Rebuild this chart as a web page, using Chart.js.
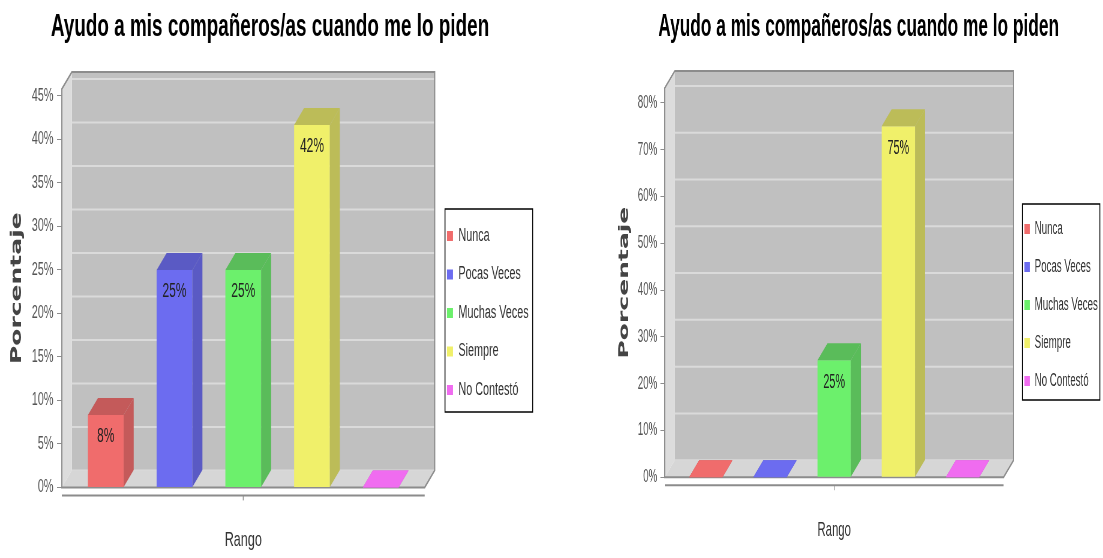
<!DOCTYPE html>
<html>
<head>
<meta charset="utf-8">
<script src="https://cdn.jsdelivr.net/npm/chart.js@4"></script>
<style>
html,body{margin:0;padding:0;background:#fff;overflow:hidden;width:1103px;height:558px}
.wrap{position:absolute;top:0;height:558px;transform-origin:0 0}
#w1{left:0;width:933px;transform:scaleX(0.6)}
#w2{left:560px;width:1006px;transform:scaleX(0.54)}
</style>
</head>
<body>
<div class="wrap" id="w1"><canvas id="c1"></canvas></div>
<div class="wrap" id="w2"><canvas id="c2"></canvas></div>
<script>
const TITLE = 'Ayudo a mis compañeros/as cuando me lo piden';
const SERIES = ['Nunca', 'Pocas Veces', 'Muchas Veces', 'Siempre', 'No Contestó'];
const CATEGORY = [''];
const LEFT_VALUES = [8.33, 25, 25, 41.67, 0];
const RIGHT_VALUES = [0, 0, 25, 75, 0];

const FRONT = ['#f06c6c', '#6c6cf0', '#6cf06c', '#f0f06a', '#f06cf0'];
const SHADE = ['#c45a5a', '#5a5ac4', '#5abc5a', '#bcbc58', '#c45ac4'];
const DX = 10, DY = 17;   // 3D depth, screen px

Chart.defaults.font.family = "'Liberation Sans', Arial, sans-serif";

function makeChart(id, values, o) {
  const dx = DX / o.sx;

  const box3d = {
    id: 'box3d',
    beforeDatasetsDraw(chart) {
      const {ctx, chartArea: a, scales: {y}} = chart;
      const y0 = y.getPixelForValue(0), top = a.top, L = a.left, R = a.right;
      ctx.save();
      ctx.fillStyle = '#c0c0c0';
      ctx.fillRect(L + dx, top - DY, R - L, y0 - top);
      ctx.strokeStyle = '#dadada'; ctx.lineWidth = 2;
      y.ticks.forEach(t => {
        const p = y.getPixelForValue(t.value) - DY;
        ctx.beginPath(); ctx.moveTo(L + dx, p); ctx.lineTo(R + dx, p); ctx.stroke();
      });
      ctx.fillStyle = '#dcdcdc';
      ctx.beginPath(); ctx.moveTo(L, y0); ctx.lineTo(L, top); ctx.lineTo(L + dx, top - DY); ctx.lineTo(L + dx, y0 - DY); ctx.closePath(); ctx.fill();
      ctx.fillStyle = '#d6d6d6';
      ctx.beginPath(); ctx.moveTo(L, y0); ctx.lineTo(L + dx, y0 - DY); ctx.lineTo(R + dx, y0 - DY); ctx.lineTo(R, y0); ctx.closePath(); ctx.fill();
      // outline
      ctx.strokeStyle = '#8c8c8c'; ctx.lineWidth = 2;
      ctx.beginPath();
      ctx.moveTo(L, y0); ctx.lineTo(L, top); ctx.lineTo(L + dx, top - DY); ctx.lineTo(R + dx, top - DY);
      ctx.lineTo(R + dx, y0 - DY); ctx.lineTo(R, y0); ctx.closePath(); ctx.stroke();
      // category axis line below the floor
      ctx.strokeStyle = '#8c8c8c'; ctx.lineWidth = 2;
      ctx.beginPath(); ctx.moveTo(L, y0 + 8); ctx.lineTo(R, y0 + 8); ctx.stroke();
      ctx.lineWidth = 1.5;
      const cx = chart.scales.x.getPixelForValue(0);
      ctx.beginPath(); ctx.moveTo(cx, y0 + 8); ctx.lineTo(cx, y0 + 13); ctx.stroke();
      ctx.restore();
    },
    afterDatasetsDraw(chart) {
      const {ctx} = chart;
      ctx.save();
      chart.data.datasets.forEach((ds, i) => {
        const bar = chart.getDatasetMeta(i).data[0];
        const xl = bar.x - bar.width / 2, xr = bar.x + bar.width / 2, yt = bar.y, yb = bar.base;
        ctx.fillStyle = SHADE[i];
        ctx.beginPath(); ctx.moveTo(xl, yt); ctx.lineTo(xl + dx, yt - DY); ctx.lineTo(xr + dx, yt - DY); ctx.lineTo(xr, yt); ctx.closePath(); ctx.fill();
        ctx.beginPath(); ctx.moveTo(xr, yt); ctx.lineTo(xr + dx, yt - DY); ctx.lineTo(xr + dx, yb - DY); ctx.lineTo(xr, yb); ctx.closePath(); ctx.fill();
        if (ds.data[0] === 0) {
          ctx.fillStyle = FRONT[i];
          ctx.beginPath(); ctx.moveTo(xl, yt); ctx.lineTo(xl + dx, yt - DY); ctx.lineTo(xr + dx, yt - DY); ctx.lineTo(xr, yt); ctx.closePath(); ctx.fill();
        }
      });
      ctx.fillStyle = '#222';
      ctx.font = "20px 'Liberation Sans', Arial, sans-serif";
      ctx.textAlign = 'center'; ctx.textBaseline = 'middle';
      chart.data.datasets.forEach((ds, i) => {
        const v = ds.data[0];
        if (v > 0) {
          const bar = chart.getDatasetMeta(i).data[0];
          ctx.fillText(Math.round(v) + '%', bar.x, bar.y + 22);
        }
      });
      ctx.restore();
    },
    afterDraw(chart) {
      const hb = chart.legend.legendHitBoxes;
      if (!hb || !hb.length) return;
      const {ctx} = chart;
      const l = Math.min(...hb.map(h => h.left)) - o.bl;
      const r = Math.max(...hb.map(h => h.left + h.width)) + o.br;
      const t = hb[0].top - o.bt;
      const b = hb[hb.length - 1].top + hb[hb.length - 1].height + o.bb;
      ctx.save();
      ctx.strokeStyle = '#000'; ctx.lineWidth = 1.5;
      ctx.strokeRect(l, t, r - l, b - t);
      ctx.restore();
    }
  };

  return new Chart(document.getElementById(id), {
    type: 'bar',
    data: {
      labels: CATEGORY,
      datasets: SERIES.map((s, i) => ({
        label: s, data: [values[i]], backgroundColor: FRONT[i], borderWidth: 0,
        categoryPercentage: 0.947, barPercentage: 0.52
      }))
    },
    options: {
      responsive: true, maintainAspectRatio: false, animation: false, events: [],
      layout: { padding: { left: o.padL, right: o.padR, top: 0, bottom: 0 } },
      plugins: {
        title: { display: true, text: TITLE, color: '#000', font: { size: o.titleSize, weight: 'bold' },
                 padding: { top: 8, bottom: o.titleBottom } },
        legend: {
          position: 'right', maxWidth: 400,
          labels: { boxWidth: 10, boxHeight: 10, padding: o.lp, color: '#333', font: { size: 18 } },
          title: { display: true, text: ' ', font: { size: 10 }, padding: { top: o.lt, bottom: 0 } }
        },
        tooltip: { enabled: false }
      },
      scales: {
        x: {
          grid: { display: false, drawTicks: false }, border: { display: false }, ticks: { display: false },
          title: { display: true, text: 'Rango', color: '#333', font: { size: 21 },
                   padding: { top: o.xTop, bottom: o.xBottom } }
        },
        y: {
          min: 0, max: o.yMax,
          ticks: { stepSize: o.step, includeBounds: false, callback: v => v + '%', color: '#555', font: { size: 18 }, padding: 6 },
          grid: { drawOnChartArea: false, tickLength: 8, color: '#8c8c8c' },
          border: { color: '#8c8c8c' },
          title: { display: true, text: 'Porcentaje', color: '#444',
                   font: { family: "'DejaVu Sans'", size: 25, weight: 'bold' }, padding: { top: 4, bottom: 4 } }
        },
        y2: {
          position: 'right', display: true, grid: { display: false }, border: { display: false },
          ticks: { display: false }, afterFit(s) { s.width = dx; }
        }
      }
    },
    plugins: [box3d]
  });
}

makeChart('c1', LEFT_VALUES, {
  sx: 0.6, yMax: 45.8, step: 5, padL: 9, padR: 42, titleSize: 31.5, titleBottom: 43.2,
  xTop: 40, xBottom: 5.4, lp: 20.5, lt: 56, bl: 3.3, br: 6.7, bt: 18, bb: 13
});
makeChart('c2', RIGHT_VALUES, {
  sx: 0.54, yMax: 83.2, step: 10, padL: 100, padR: 0, titleSize: 32, titleBottom: 41.6,
  xTop: 40, xBottom: 15.6, lp: 20, lt: 40, bl: 3.7, br: 3.7, bt: 16, bb: 10
});
</script>
</body>
</html>
